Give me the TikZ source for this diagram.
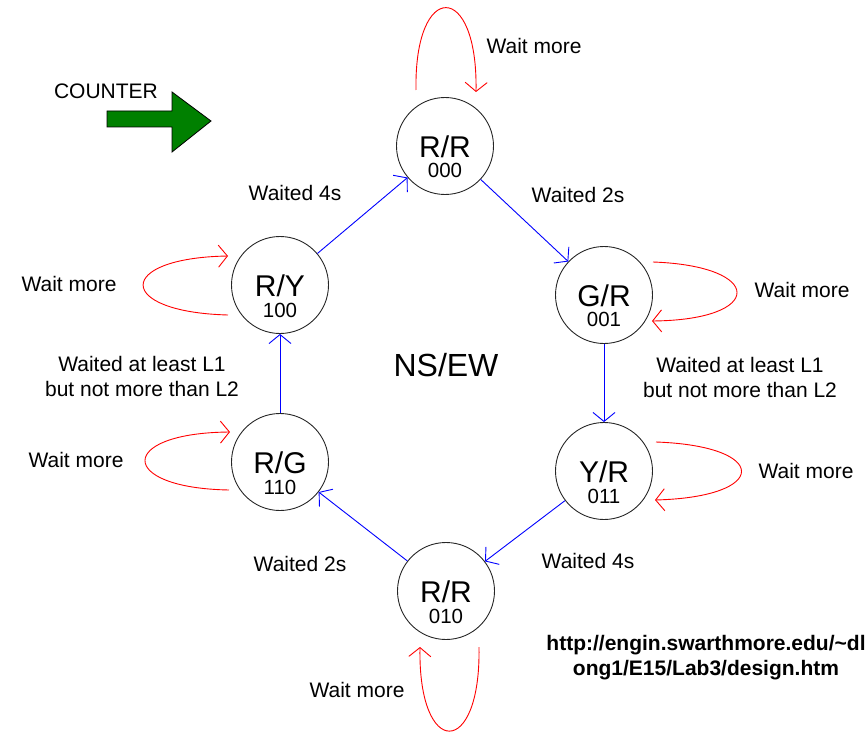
\documentclass[tikz,border=0pt]{standalone}
\usepackage{fontspec}
\setmainfont{Liberation Sans}
\usetikzlibrary{arrows.meta}
\definecolor{arrowgreen}{RGB}{0,128,0}
\begin{document}
\begin{tikzpicture}[x=1pt,y=-1pt,
  state/.style={circle, draw=black!85, line width=0.9pt, minimum size=97pt, inner sep=0pt},
  sname/.style={font=\fontsize{30}{30}\selectfont, inner sep=0pt, text height=21pt, text depth=0pt},
  scode/.style={font=\fontsize{20.5}{20.5}\selectfont, inner sep=0pt, text height=14.5pt, text depth=0pt},
  lbl/.style={font=\fontsize{21}{25}\selectfont, align=center, inner sep=0pt},
  tip/.style={-{Straight Barb[length=9pt,width=22pt]}},
  trans/.style={draw=blue, line width=0.9pt, tip},
  selfloop/.style={draw=red, line width=0.9pt, tip}]
\useasboundingbox (0,0) rectangle (867,733);

% states
\node[state] (rr0) at (445,146) {};
\node[sname] (rr0n) at (445,147) {R/R};
\node[scode] (rr0c) at (445,170.5) {000};

\node[state] (gr) at (604,295) {};
\node[sname] (grn) at (604,296) {G/R};
\node[scode] (grc) at (604,319.5) {001};

\node[state] (yr) at (604,471) {};
\node[sname] (yrn) at (604,472) {Y/R};
\node[scode] (yrc) at (604,496.5) {011};

\node[state] (rr2) at (446,591) {};
\node[sname] (rr2n) at (446,592) {R/R};
\node[scode] (rr2c) at (446,616) {010};

\node[state] (rg) at (280,462) {};
\node[sname] (rgn) at (280,463) {R/G};
\node[scode] (rgc) at (280,487) {110};

\node[state] (ry) at (280,285) {};
\node[sname] (ryn) at (280,286) {R/Y};
\node[scode] (ryc) at (280,310) {100};

% transitions
\draw[trans] (ry) -- (rr0);
\draw[trans] (rr0) -- (gr);
\draw[trans] (gr) -- (yr);
\draw[trans] (yr) -- (rr2);
\draw[trans] (rr2) -- (rg);
\draw[trans] (rg) -- (ry);

% self loops
\coordinate (l0s) at (416,90);  \coordinate (l0e) at (476,92);
\draw[selfloop] (l0s) .. controls (414,-20) and (478,-20) .. (l0e);
\coordinate (l1s) at (653,262); \coordinate (l1e) at (652,321);
\draw[selfloop] (l1s) .. controls (765,266) and (765,320) .. (l1e);
\coordinate (l2s) at (656,442); \coordinate (l2e) at (655,500);
\draw[selfloop] (l2s) .. controls (770,446) and (770,497) .. (l2e);
\coordinate (l3s) at (479,647); \coordinate (l3e) at (420,647);
\draw[selfloop] (l3s) .. controls (481,759) and (418,759) .. (l3e);
\coordinate (l4s) at (229,490); \coordinate (l4e) at (230,432);
\draw[selfloop] (l4s) .. controls (117,488) and (117,433) .. (l4e);
\coordinate (l5s) at (228,315); \coordinate (l5e) at (228,256);
\draw[selfloop] (l5s) .. controls (115,312) and (115,258) .. (l5e);

% labels
\node[lbl] (w0) at (534,46) {Wait more};
\node[lbl] (t1) at (578,195) {Waited 2s};
\node[lbl] (w1) at (802,290) {Wait more};
\node[lbl] (t2) at (740,377) {Waited at least L1\\but not more than L2};
\node[lbl] (w2) at (806,471) {Wait more};
\node[lbl] (t3) at (588,561) {Waited 4s};
\node[lbl] (w3) at (357,690) {Wait more};
\node[lbl] (t4) at (300,564) {Waited 2s};
\node[lbl] (w4) at (76,460) {Wait more};
\node[lbl] (t5) at (142,376) {Waited at least L1\\but not more than L2};
\node[lbl] (w5) at (69,284) {Wait more};
\node[lbl] (t6) at (295,193) {Waited 4s};
\node[font=\fontsize{32}{32}\selectfont, inner sep=0pt] (nsew) at (446,365) {NS/EW};
\node[font=\fontsize{21}{21}\selectfont, inner sep=0pt] (counter) at (106,91) {COUNTER};
\node[font=\fontsize{21}{25}\selectfont\bfseries, align=center, inner sep=0pt, anchor=north] (url) at (706,635)
  {http://engin.swarthmore.edu/\textasciitilde dl\\ong1/E15/Lab3/design.htm};

% green arrow
\draw[fill=arrowgreen, draw=black, line width=0.8pt]
  (107,111) -- (172,111) -- (172,92) -- (211,121) -- (172,152) -- (172,127) -- (107,127) -- cycle;
\end{tikzpicture}
\end{document}
